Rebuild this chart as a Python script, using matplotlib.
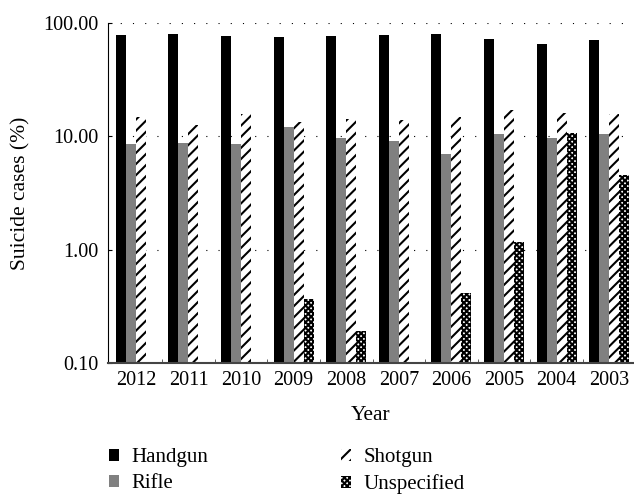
import matplotlib.pyplot as plt
import numpy as np

plt.rcParams['font.family'] = ['Liberation Serif', 'DejaVu Serif']
plt.rcParams['hatch.linewidth'] = 1.5

years = ['2012', '2011', '2010', '2009', '2008', '2007', '2006', '2005', '2004', '2003']
handgun = [78, 79.5, 76.4, 74.8, 76.4, 78, 79.5, 71.8, 64.9, 70.3]
rifle = [8.5, 8.7, 8.5, 12.1, 9.6, 9.1, 6.9, 10.4, 9.6, 10.4]
shotgun = [14.8, 12.5, 15.7, 13.3, 14.2, 13.9, 14.7, 17.0, 15.9, 15.7]
unspecified = [np.nan, np.nan, np.nan, 0.37, 0.19, np.nan, 0.41, 1.16, 10.6, 4.5]

fig = plt.figure(figsize=(6.34, 4.95), dpi=100)
ax = fig.add_axes([108 / 634, 132 / 495, 526 / 634, 340.3 / 495])

x = np.arange(len(years))
w = 0.19
ax.bar(x - 1.5 * w, handgun, w, color='black', label='Handgun')
ax.bar(x - 0.5 * w, rifle, w, color='#808080', label='Rifle')
ax.bar(x + 0.5 * w, shotgun, w, color='white', edgecolor='black', hatch='///',
       linewidth=0, label='Shotgun')
ax.bar(x + 1.5 * w, unspecified, w, color='white', edgecolor='black', hatch='xxxxxx',
       linewidth=0, label='Unspecified')

ax.set_yscale('log')
ax.set_ylim(0.1, 100)
ax.set_xlim(-0.53, 9.47)
ax.set_yticks([0.1, 1, 10, 100])
ax.set_yticklabels(['0.10', '1.00', '10.00', '100.00'])
ax.yaxis.set_minor_locator(plt.NullLocator())
ax.tick_params(axis='y', direction='in', length=3, labelsize=14.5, pad=7)

ax.set_xticks(x)
ax.set_xticklabels(years)
ax.set_xticks(np.arange(0.5, 9.5, 1), minor=True)
ax.tick_params(axis='x', which='major', length=0, labelsize=14.5, pad=6)
ax.tick_params(axis='x', which='minor', direction='in', length=3, color='#444444')

for v in [1, 10, 100]:
    ax.axhline(v, color='black', linestyle=(0, (1, 10)), linewidth=0.8, zorder=0)

ax.spines['top'].set_visible(False)
ax.spines['right'].set_visible(False)
ax.spines['bottom'].set_color('#444444')
ax.spines['bottom'].set_linewidth(1.5)

ax.set_xlabel('Year', fontsize=15.5, labelpad=11)
ax.set_ylabel('Suicide cases (%)', fontsize=15.5, labelpad=9)

fig.legend(loc='upper left', bbox_to_anchor=(109 / 634, 0.094), ncol=2, frameon=False,
           fontsize=15, handlelength=0.48, handleheight=0.48, columnspacing=6.4,
           labelspacing=0.33, handletextpad=0.58, borderpad=0, borderaxespad=0)

fig.savefig('out.png', dpi=100)
